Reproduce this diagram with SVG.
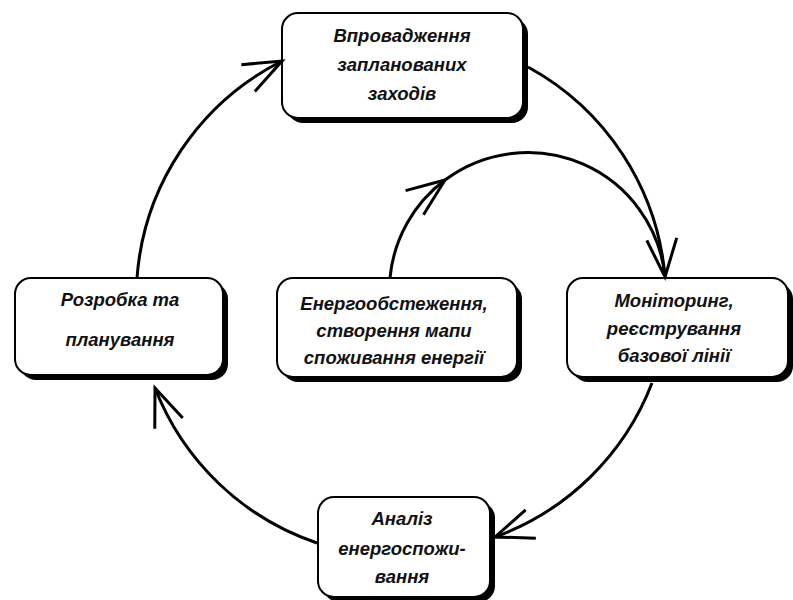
<svg xmlns="http://www.w3.org/2000/svg" width="793" height="600" viewBox="0 0 793 600">
  <style>
    .shadow { fill: #000; }
    .box { fill: #fff; stroke: #000; stroke-width: 2; }
    .lbl { font-family: "Liberation Sans", Arial, sans-serif; font-weight: bold; font-style: italic; font-size: 18.5px; fill: #111; text-anchor: middle; }
    .conn { fill: none; stroke: #000; stroke-width: 3; }
  </style>
  <defs>
    <marker id="arr" markerUnits="userSpaceOnUse" viewBox="-45 -20 50 40" markerWidth="50" markerHeight="40" refX="0" refY="0" orient="auto">
      <path d="M -38 -15 L 0 0 L -38 15" fill="none" stroke="#000" stroke-width="3"/>
    </marker>
  </defs>
  <rect x="0" y="0" width="793" height="600" fill="#fff"/>

  <g id="node-implement">
    <rect class="shadow" x="287" y="18" width="241" height="105" rx="16"/>
    <rect class="box" x="282" y="13" width="241" height="105" rx="16"/>
    <text class="lbl" x="402" y="42">Впровадження</text>
    <text class="lbl" x="402" y="71">запланованих</text>
    <text class="lbl" x="402" y="100">заходів</text>
  </g>

  <g id="node-planning">
    <rect class="shadow" x="20" y="283" width="208" height="97" rx="16"/>
    <rect class="box" x="15" y="278" width="208" height="97" rx="16"/>
    <text class="lbl" x="120" y="306">Розробка та</text>
    <text class="lbl" x="120" y="346">планування</text>
  </g>

  <g id="node-audit">
    <rect class="shadow" x="282" y="283" width="240" height="99" rx="16"/>
    <rect class="box" x="277" y="278" width="240" height="99" rx="16"/>
    <text class="lbl" x="394" y="310">Енергообстеження,</text>
    <text class="lbl" x="394" y="337">створення мапи</text>
    <text class="lbl" x="394" y="364">споживання енергії</text>
  </g>

  <g id="node-monitoring">
    <rect class="shadow" x="572" y="283" width="221" height="99" rx="16"/>
    <rect class="box" x="567" y="278" width="221" height="99" rx="16"/>
    <text class="lbl" x="674" y="307">Моніторинг,</text>
    <text class="lbl" x="674" y="335">реєстрування</text>
    <text class="lbl" x="674" y="362">базової лінії</text>
  </g>

  <g id="node-analysis">
    <rect class="shadow" x="323" y="502" width="172" height="100" rx="16"/>
    <rect class="box" x="318" y="497" width="172" height="100" rx="16"/>
    <text class="lbl" x="402" y="525">Аналіз</text>
    <text class="lbl" x="402" y="555">енергоспожи-</text>
    <text class="lbl" x="402" y="583">вання</text>
  </g>

  <g id="connectors">
    <path class="conn" d="M 137 278 A 265 265 0 0 1 282 61" marker-end="url(#arr)"/>
    <path class="conn" d="M 528 67 A 265 265 0 0 1 665 277" marker-end="url(#arr)"/>
    <path class="conn" d="M 652 383 A 265 265 0 0 1 495 537" marker-end="url(#arr)"/>
    <path class="conn" d="M 317 543 A 265 265 0 0 1 155 388" marker-end="url(#arr)"/>
    <path class="conn" d="M 390 278 A 138 138 0 0 1 445 180" marker-end="url(#arr)"/>
    <path class="conn" d="M 445 180 A 138 138 0 0 1 665 277"/>
  </g>
</svg>
